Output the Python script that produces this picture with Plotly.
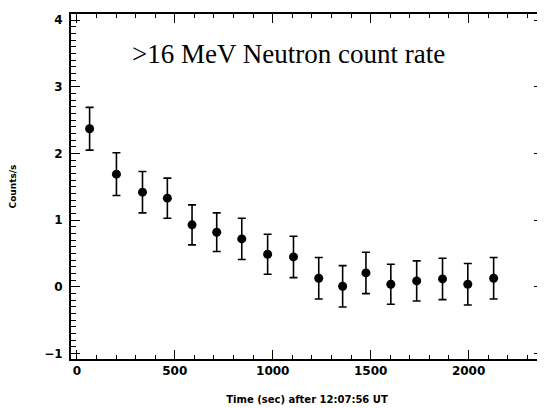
import plotly.graph_objects as go

time_s = [65, 202, 335, 462, 588, 714, 842, 974, 1106, 1235, 1357, 1476, 1603, 1735, 1867, 1996, 2128]
rate = [2.37, 1.69, 1.42, 1.33, 0.93, 0.82, 0.72, 0.49, 0.45, 0.13, 0.01, 0.21, 0.04, 0.09, 0.12, 0.04, 0.13]
err = [0.32, 0.32, 0.31, 0.30, 0.30, 0.29, 0.31, 0.30, 0.31, 0.31, 0.31, 0.31, 0.30, 0.30, 0.31, 0.31, 0.31]

fig = go.Figure()
fig.add_trace(go.Scatter(
    x=time_s, y=rate, mode="markers",
    marker=dict(color="black", size=9, symbol="circle"),
    error_y=dict(type="data", array=err, visible=True, color="black", thickness=1.6, width=4),
    showlegend=False,
))

fig.add_annotation(
    text=">16 MeV Neutron count rate", x=0.46, y=0.885, xref="paper", yref="paper",
    xanchor="center", yanchor="middle", showarrow=False,
    font=dict(family="Liberation Serif", size=27, color="black"),
)

axis_common = dict(
    showline=True, linecolor="black", linewidth=1.8, mirror="ticks",
    ticks="inside", tickcolor="black", tickwidth=1.3, ticklen=9,
    showgrid=False, zeroline=False, automargin=False,
    tickfont=dict(family="DejaVu Sans", size=12, color="black", weight="bold"),
)

fig.update_xaxes(
    range=[-30, 2380], tickmode="array", tickvals=[0, 500, 1000, 1500, 2000],
    minor=dict(dtick=100, ticks="inside", ticklen=4, tickcolor="black", tickwidth=1.2, showgrid=False),
    title=dict(text="Time (sec) after 12:07:56 UT", standoff=19,
               font=dict(family="DejaVu Sans", size=10, color="black", weight="bold")),
    **axis_common,
)
fig.update_yaxes(
    range=[-1.08, 4.09], tickmode="array", tickvals=[-1, 0, 1, 2, 3, 4],
    ticklabelstandoff=4,
    minor=dict(dtick=0.1, tick0=0, ticks="inside", ticklen=5, tickcolor="black", tickwidth=1.2, showgrid=False),
    title=dict(text="Counts/s", standoff=28,
               font=dict(family="DejaVu Sans", size=9, color="black", weight="bold")),
    **axis_common,
)

fig.update_layout(
    width=545, height=408,
    margin=dict(l=63, r=10, t=6, b=57),
    paper_bgcolor="white", plot_bgcolor="white",
)

fig.write_html("out.html")
